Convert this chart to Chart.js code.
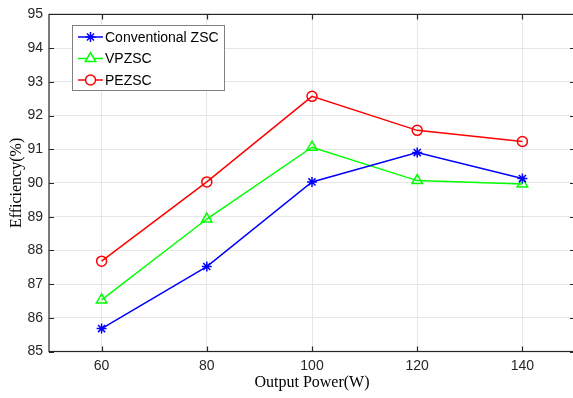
<html>
<head>
<title>Efficiency vs Output Power</title>
<style type="text/css">
body { margin: 0; overflow: hidden; background: #fff; }
</style>
<script src="https://cdn.jsdelivr.net/npm/chart.js"></script>
<script>
// values
const powers = [60, 80, 100, 120, 140];
const xTicks = [60, 80, 100, 120, 140];
const yTicks = [85, 86, 87, 88, 89, 90, 91, 92, 93, 94, 95];
const seriesNames = ['Conventional ZSC', 'VPZSC', 'PEZSC'];
const convZsc = [85.68, 87.52, 90.03, 90.9, 90.13];
const vpzsc = [86.53, 88.93, 91.06, 90.07, 89.97];
const pezsc = [87.68, 90.03, 92.57, 91.56, 91.23];

const AXIS = '#262626';

// frame + inward ticks, like the original plot
const frame = {
	id: 'frame',
	afterDatasetsDraw(chart) {
		const ctx = chart.ctx, a = chart.chartArea;
		const xs = chart.scales.x, ys = chart.scales.y;
		ctx.save();
		ctx.strokeStyle = AXIS;
		ctx.lineWidth = 1.2;
		ctx.strokeRect(a.left, a.top, a.right - a.left, a.bottom - a.top);
		ctx.beginPath();
		xTicks.forEach(v => {
			const px = Math.round(xs.getPixelForValue(v)) + 0.5;
			ctx.moveTo(px, a.bottom); ctx.lineTo(px, a.bottom - 5);
			ctx.moveTo(px, a.top); ctx.lineTo(px, a.top + 5);
		});
		yTicks.forEach(v => {
			const py = Math.round(ys.getPixelForValue(v)) + 0.5;
			ctx.moveTo(a.left, py); ctx.lineTo(a.left + 5, py);
			ctx.moveTo(a.right, py); ctx.lineTo(a.right - 5, py);
		});
		ctx.stroke();
		ctx.restore();
	}
};

// boxed legend in the upper left corner
const boxLegend = {
	id: 'boxLegend',
	afterDraw(chart) {
		const ctx = chart.ctx;
		const x0 = 72.5, y0 = 25.5, w = 152, h = 65;
		ctx.save();
		ctx.fillStyle = '#fff';
		ctx.fillRect(x0, y0, w, h);
		ctx.strokeStyle = '#808080';
		ctx.lineWidth = 1;
		ctx.strokeRect(x0, y0, w, h);
		ctx.font = '14px "Liberation Sans", Arial, sans-serif';
		ctx.textBaseline = 'middle';
		chart.data.datasets.forEach((ds, i) => {
			const cy = 37 + i * 21.5;
			ctx.strokeStyle = ds.borderColor;
			ctx.lineWidth = 1.5;
			ctx.beginPath();
			ctx.moveTo(78, cy); ctx.lineTo(103, cy);
			ctx.stroke();
			ctx.fillStyle = '#fff';
			Chart.helpers.drawPoint(ctx, {
				pointStyle: ds.pointStyle,
				radius: ds.pointRadius,
				borderWidth: ds.pointBorderWidth,
				rotation: 0
			}, 90.5, cy);
			ctx.fillStyle = '#000';
			ctx.fillText(ds.label, 105, cy + 1);
		});
		ctx.restore();
	}
};

function makeSet(label, values, color, style, r) {
	return {
		label: label,
		data: powers.map((p, i) => ({ x: p, y: values[i] })),
		borderColor: color,
		backgroundColor: color,
		borderWidth: 1.5,
		pointStyle: style,
		pointRadius: r,
		pointBorderWidth: 1.5,
		pointBackgroundColor: 'rgba(0,0,0,0)',
		pointBorderColor: color,
		tension: 0
	};
}

function load()
{
	const tickFont = { family: '"Liberation Sans", Arial, sans-serif', size: 14 };
	const titleFont = { family: '"Liberation Serif", "Times New Roman", serif', size: 16 };
	new Chart(document.getElementById('myChart'), {
		type: 'line',
		data: {
			datasets: [
				makeSet(seriesNames[0], convZsc, '#0000ff', 'star', 5),
				makeSet(seriesNames[1], vpzsc, '#00ff00', 'triangle', 6),
				makeSet(seriesNames[2], pezsc, '#ff0000', 'circle', 5)
			]
		},
		options: {
			responsive: false,
			animation: false,
			// canvas is a bit wider than the window: the right edge of the axes is cut off
			layout: { autoPadding: false, padding: { top: 12.5, right: 3, left: 0, bottom: 0 } },
			plugins: {
				legend: { display: false },
				tooltip: { enabled: false }
			},
			scales: {
				x: {
					type: 'linear',
					min: 50,
					max: 150,
					afterBuildTicks: s => { s.ticks = xTicks.map(v => ({ value: v })); },
					afterFit: s => { s.height = 46.5; },
					grid: { color: '#e6e6e6', drawTicks: false },
					border: { display: false },
					ticks: { font: tickFont, color: AXIS, padding: 6, maxRotation: 0 },
					title: { display: true, text: 'Output Power(W)', font: titleFont, color: '#000', padding: { top: 0, bottom: 5.5 } }
				},
				y: {
					min: 85,
					max: 95,
					afterBuildTicks: s => { s.ticks = yTicks.map(v => ({ value: v })); },
					afterFit: s => { s.width = 49; },
					grid: { color: '#e6e6e6', drawTicks: false },
					border: { display: false },
					ticks: { font: tickFont, color: AXIS, padding: 6 },
					title: { display: true, text: 'Efficiency(%)', font: titleFont, color: '#000', padding: { top: 7.5, bottom: 0 } }
				}
			}
		},
		plugins: [frame, boxLegend]
	});
}
</script>
</head>
<body onload='load();'>
<canvas id="myChart" width="578" height="398"></canvas>
</body>
</html>
